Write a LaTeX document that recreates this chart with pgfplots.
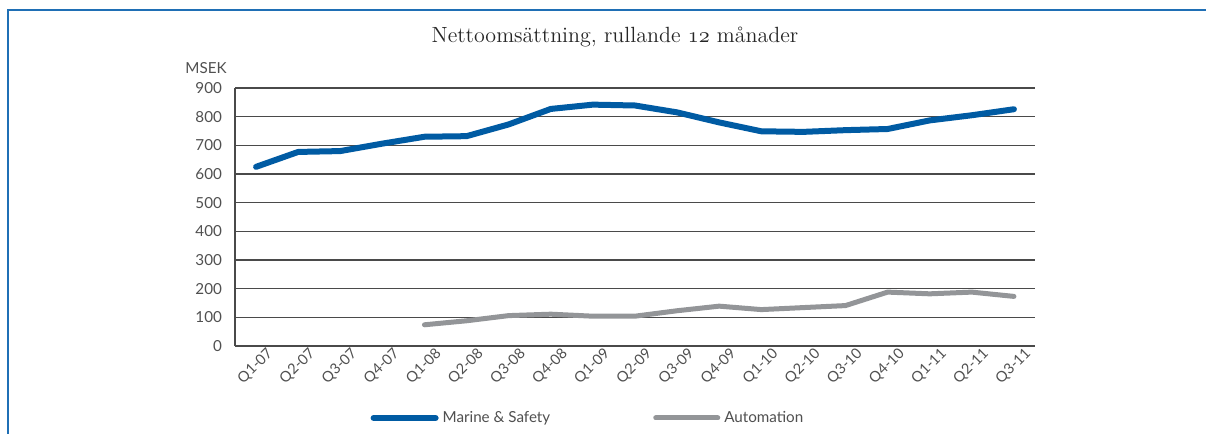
\documentclass[border=0pt]{standalone}
\usepackage{fontspec}
\usepackage{pgfplots}
\pgfplotsset{compat=1.18}
\newfontfamily\sansfont{Lato}
\newcommand\osnum[1]{{\usefont{OML}{cmm}{m}{it}#1}}
\definecolor{msblue}{HTML}{005BA3}
\definecolor{autgray}{HTML}{939598}
\definecolor{framblue}{HTML}{1F6FB5}
\definecolor{txtgray}{HTML}{505050}
\definecolor{gridc}{HTML}{4A4A4A}

\begin{document}
\begin{tikzpicture}
\path[use as bounding box] (0,0) rectangle (603pt,217pt);
\draw[framblue, line width=1pt] (4pt,0pt) -- (4pt,212pt) -- (603pt,212pt);
\node[font=\fontsize{11}{13}\selectfont, text=black!85] at (307.5pt,198.5pt) {Nettoomsättning, rullande \osnum{12} månader};
\node[font=\sansfont\fontsize{7.6}{9}\selectfont, text=txtgray] at (103pt,183pt) {MSEK};
\begin{axis}[
  at={(117.5pt,44pt)}, anchor=south west,
  scale only axis, width=400pt, height=129pt,
  xmin=-0.5, xmax=18.5, ymin=0, ymax=900,
  ytick={0,100,...,900},
  xtick={0,...,18},
  xticklabels={Q1-07,Q2-07,Q3-07,Q4-07,Q1-08,Q2-08,Q3-08,Q4-08,Q1-09,Q2-09,Q3-09,Q4-09,Q1-10,Q2-10,Q3-10,Q4-10,Q1-11,Q2-11,Q3-11},
  axis x line=bottom, axis y line=left,
  axis line style={-, gridc, line width=0.8pt},
  major tick length=0pt,
  ymajorgrids, major grid style={gridc, line width=0.7pt},
  tick label style={font=\sansfont\fontsize{7.6}{9}\selectfont, text=txtgray},
  /pgf/number format/assume math mode=true,
  yticklabel style={xshift=-3pt},
  xticklabel style={font=\sansfont\fontsize{7.3}{9}\selectfont, rotate=45, anchor=north east, inner sep=0.5pt, xshift=4pt, yshift=-3pt},
  legend style={at={(0.169,-0.279)}, anchor=west, draw=none, inner sep=0pt,
    font=\sansfont\fontsize{7.6}{9}\selectfont, text=txtgray,
    legend columns=2,
    /tikz/every even column/.append style={column sep=49.5pt}},
  legend image code/.code={\draw[#1] (0pt,0pt) -- (31pt,0pt);},
  legend cell align=left,
]
\addplot[msblue, line width=3pt, line cap=round, line join=round] coordinates {
  (0,625) (1,677) (2,680) (3,706) (4,730) (5,732) (6,773) (7,827) (8,842) (9,839)
  (10,815) (11,780) (12,749) (13,747) (14,753) (15,757) (16,787) (17,805) (18,826)};
\addplot[autgray, line width=2.5pt, line cap=round, line join=round] coordinates {
  (4,74) (5,88) (6,106) (7,111) (8,104) (9,104) (10,123) (11,139) (12,127)
  (13,134) (14,141) (15,188) (16,182) (17,188) (18,173)};
\legend{Marine \& Safety, Automation}
\end{axis}
\end{tikzpicture}
\end{document}
